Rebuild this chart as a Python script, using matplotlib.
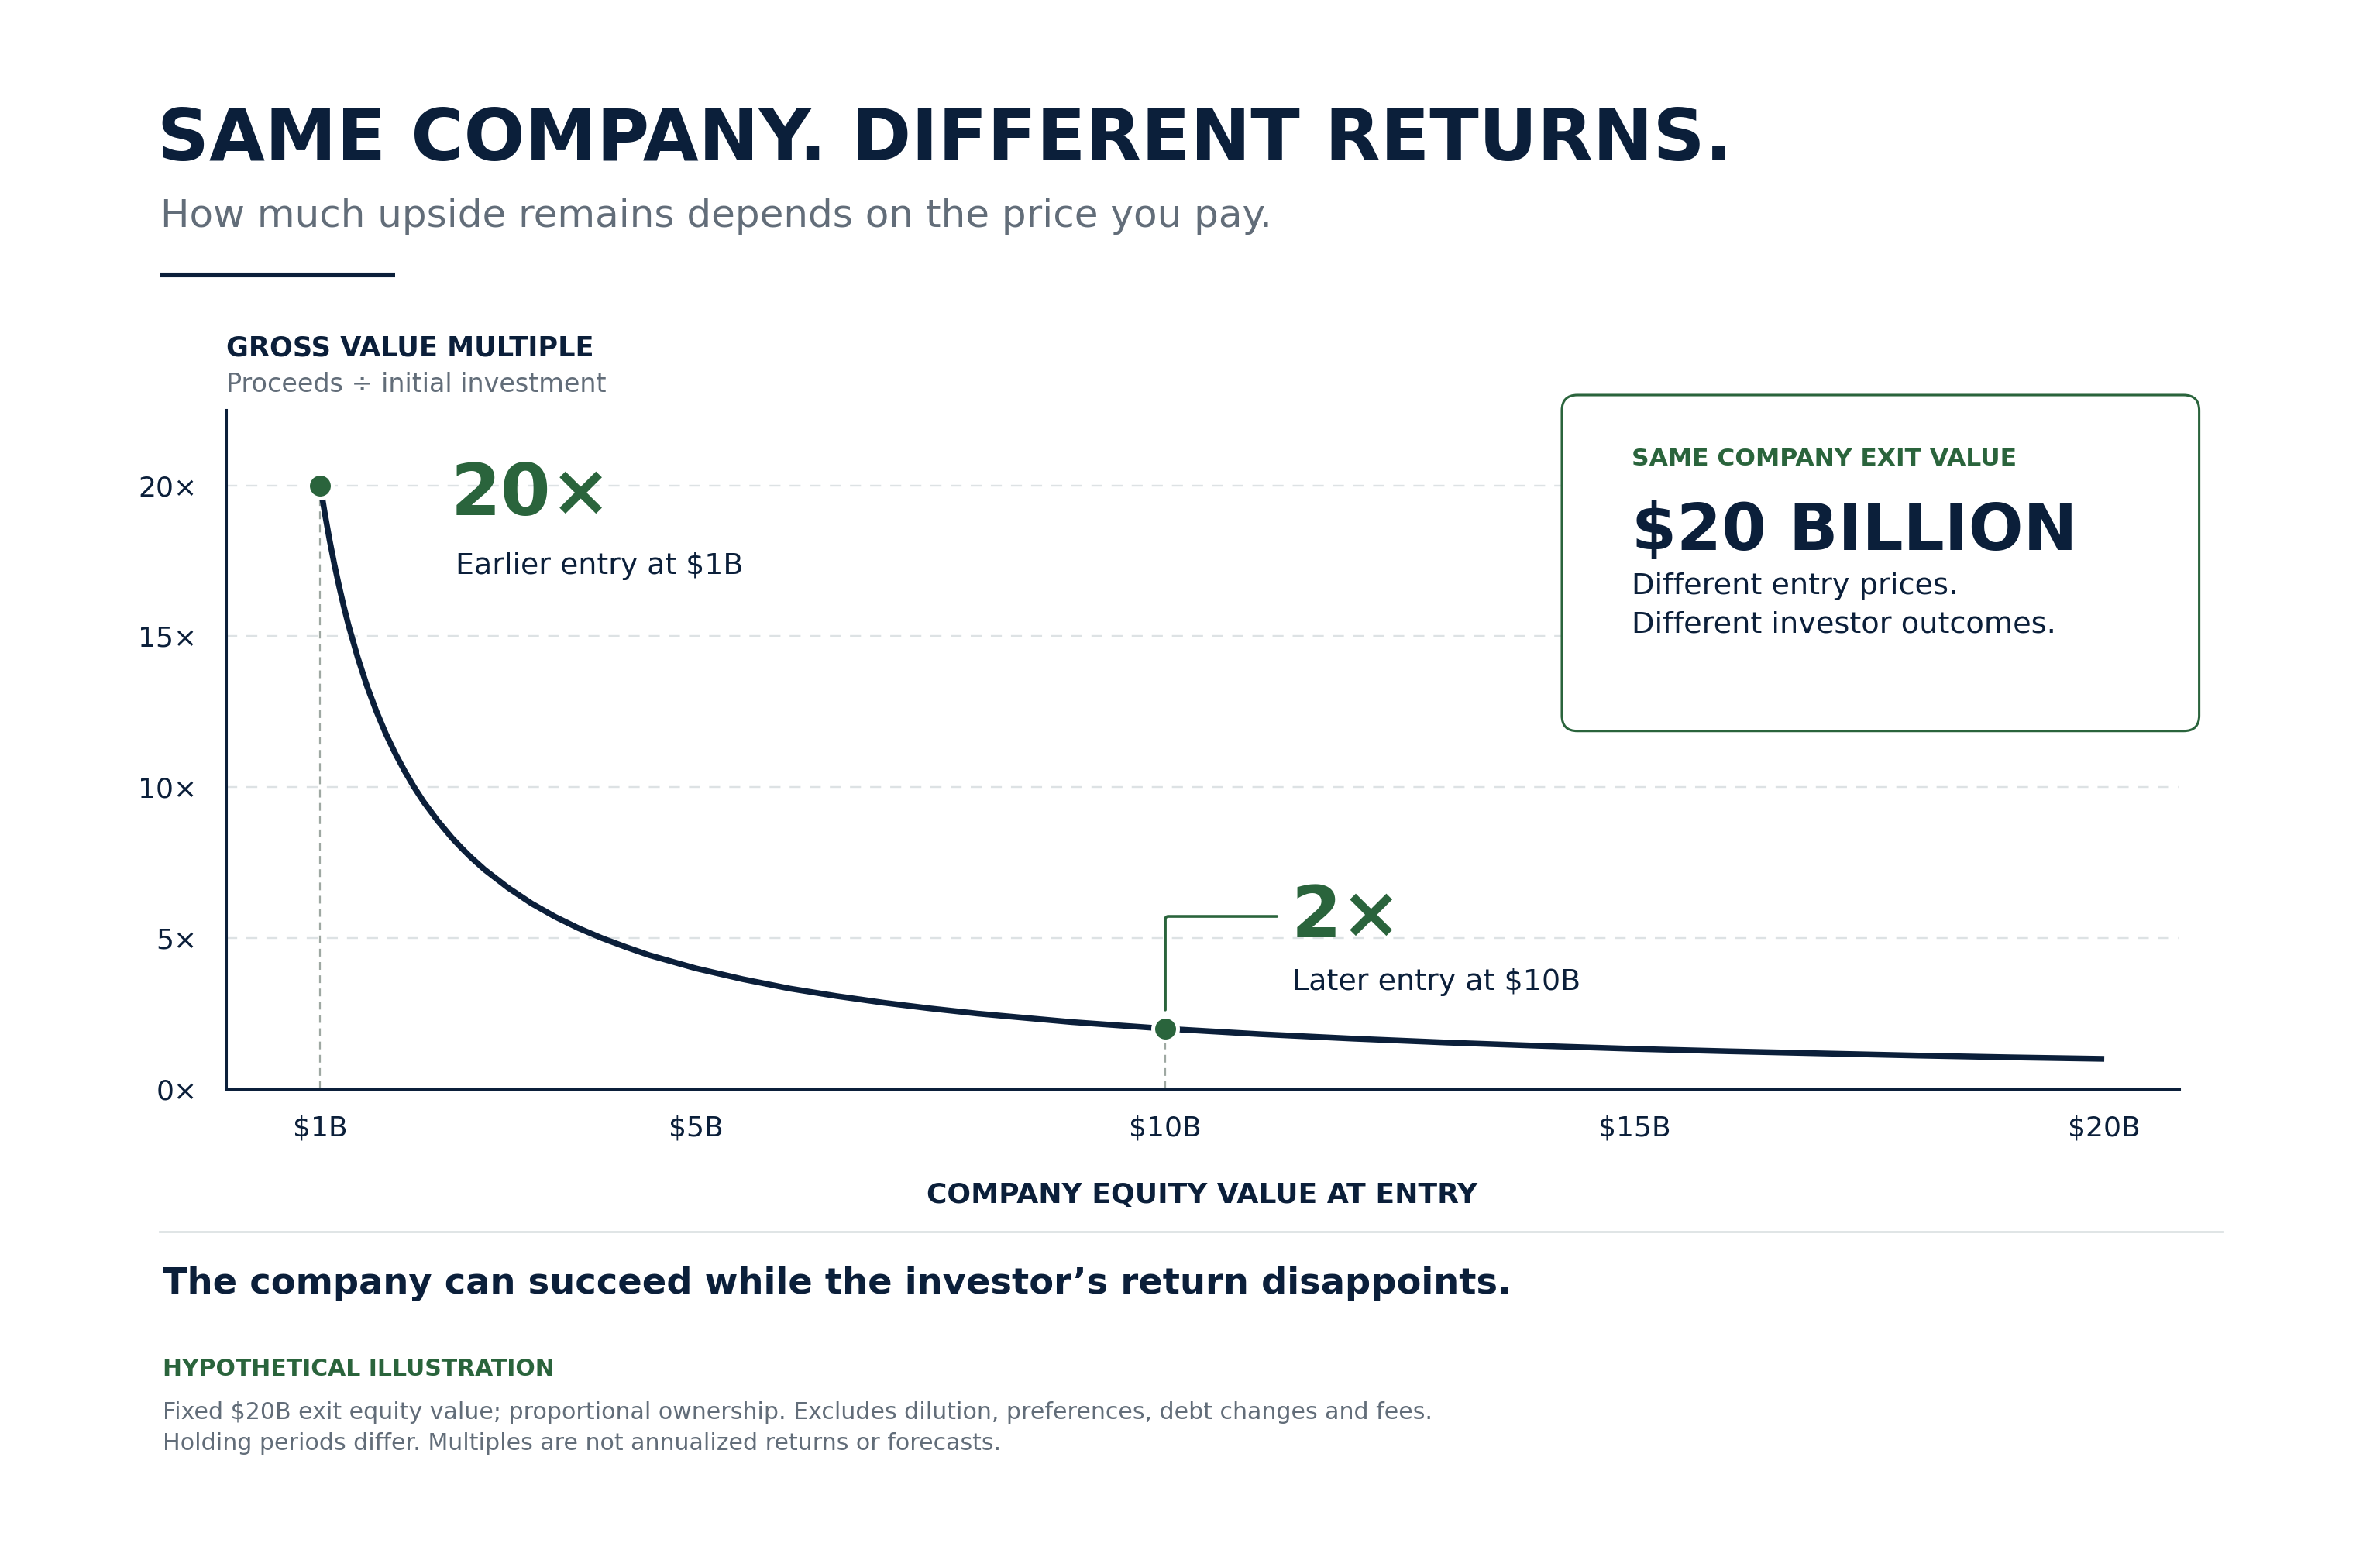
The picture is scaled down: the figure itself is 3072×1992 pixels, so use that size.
import matplotlib
matplotlib.use("Agg")
import matplotlib.pyplot as plt
from matplotlib.patches import FancyBboxPatch
from matplotlib.lines import Line2D

NAVY = "#0b1f3a"
GREEN = "#2a643c"
GRAY = "#626d79"
GRID = "#dde2e4"
DROP = "#9ea8a2"

# curve points (entry value $B -> gross multiple)
entry_values = [1, 1.05, 1.1, 1.15, 1.2, 1.25, 1.3, 1.4, 1.5, 1.6, 1.7, 1.8, 1.9,
                2, 2.1, 2.25, 2.4, 2.5, 2.6, 2.75, 3, 3.25, 3.5, 3.75, 4, 4.25,
                4.5, 5, 5.5, 6, 6.5, 7, 7.5, 8, 9, 10, 11, 12, 13, 14, 15, 16,
                17, 18, 19, 20]
multiples = [20, 19.05, 18.18, 17.39, 16.67, 16, 15.38, 14.29, 13.33, 12.5,
             11.76, 11.11, 10.53, 10, 9.52, 8.89, 8.33, 8, 7.69, 7.27, 6.67,
             6.15, 5.71, 5.33, 5, 4.71, 4.44, 4, 3.64, 3.33, 3.08, 2.86, 2.67,
             2.5, 2.22, 2, 1.82, 1.67, 1.54, 1.43, 1.33, 1.25, 1.18, 1.11,
             1.05, 1]

highlight_x = [1, 10]
highlight_y = [20, 2]

x_ticks = [1, 5, 10, 15, 20]
x_labels = ["$1B", "$5B", "$10B", "$15B", "$20B"]
y_ticks = [0, 5, 10, 15, 20]
y_labels = ["0×", "5×", "10×", "15×", "20×"]

plt.rcParams["font.family"] = ["DejaVu Sans"]

fig = plt.figure(figsize=(15.36, 9.96), dpi=200)
ax = fig.add_axes([0.0951, 0.2942, 0.8206, 0.4402])

ax.set_xlim(0, 20.8)
ax.set_ylim(0, 22.5)

# grid
ax.grid(axis="y", color=GRID, linewidth=0.85, linestyle=(0, (6, 5)))
ax.set_axisbelow(True)

# drop lines from the highlighted points
for hx, hy in zip(highlight_x, highlight_y):
    ax.plot([hx, hx], [0, hy], color=DROP, linewidth=0.8,
            linestyle=(0, (4.5, 3.2)), zorder=2)

# main curve
ax.plot(entry_values, multiples, color=NAVY, linewidth=2.7,
        solid_joinstyle="round", solid_capstyle="butt", zorder=3)

# markers
ax.plot(highlight_x, highlight_y, "o", markersize=11.5, markerfacecolor=GREEN,
        markeredgecolor="white", markeredgewidth=1.8, zorder=5)

# connector for the 2x callout
ax.annotate("", xy=(10, 2.62), xytext=(11.19, 5.72),
            arrowprops=dict(arrowstyle="-", color=GREEN, linewidth=1.3,
                            shrinkA=0, shrinkB=0,
                            connectionstyle="angle,angleA=0,angleB=90,rad=4"),
            zorder=4)

# callout labels
ax.text(2.39, 19.0, "20×", color=GREEN, fontsize=33.5, fontweight="bold",
        ha="left", va="baseline")
ax.text(2.44, 17.05, "Earlier entry at $1B", color=NAVY, fontsize=13.65,
        ha="left", va="baseline")
ax.text(11.34, 5.03, "2×", color=GREEN, fontsize=33.5, fontweight="bold",
        ha="left", va="baseline")
ax.text(11.35, 3.29, "Later entry at $10B", color=NAVY, fontsize=13.7,
        ha="left", va="baseline")

# axes styling
ax.set_xticks(x_ticks)
ax.set_xticklabels(x_labels)
ax.set_yticks(y_ticks)
ax.set_yticklabels(y_labels)
ax.tick_params(axis="both", length=0, labelsize=13, labelcolor=NAVY)
ax.tick_params(axis="y", pad=13.5)
ax.tick_params(axis="x", pad=12)
for side in ["top", "right"]:
    ax.spines[side].set_visible(False)
for side in ["left", "bottom"]:
    ax.spines[side].set_color(NAVY)
    ax.spines[side].set_linewidth(1.1)

# header
fig.text(0.0661, 0.8961, "SAME COMPANY. DIFFERENT RETURNS.", color=NAVY,
         fontsize=33.5, fontweight="bold", va="baseline")
fig.text(0.0674, 0.8529, "How much upside remains depends on the price you pay.",
         color=GRAY, fontsize=18, va="baseline")
fig.add_artist(Line2D([0.0674, 0.166], [0.8218, 0.8218], color=NAVY,
                      linewidth=2.2, solid_capstyle="butt"))

fig.text(0.0951, 0.7691, "GROSS VALUE MULTIPLE", color=NAVY, fontsize=12.65,
         fontweight="bold", va="baseline")
fig.text(0.0951, 0.7460, "Proceeds ÷ initial investment", color=GRAY,
         fontsize=12, va="baseline")

# callout box
box = FancyBboxPatch((10.08, 5.2415), 4.113, 2.1685,
                     boxstyle="round,pad=0,rounding_size=0.1",
                     transform=fig.dpi_scale_trans, facecolor="white",
                     edgecolor=GREEN, linewidth=1.1, zorder=2)
fig.add_artist(box)
fig.text(0.6855, 0.6981, "SAME COMPANY EXIT VALUE", color=GREEN, fontsize=11.3,
         fontweight="bold", va="baseline", zorder=3)
fig.text(0.6855, 0.6436, "$20 BILLION", color=NAVY, fontsize=30,
         fontweight="bold", va="baseline", zorder=3)
fig.text(0.6855, 0.6150, "Different entry prices.", color=NAVY, fontsize=13.75,
         va="baseline", zorder=3)
fig.text(0.6855, 0.5899, "Different investor outcomes.", color=NAVY,
         fontsize=13.75, va="baseline", zorder=3)

# x axis title
fig.text(0.5052, 0.2254, "COMPANY EQUITY VALUE AT ENTRY", color=NAVY,
         fontsize=13, fontweight="bold", ha="center", va="center")

# footer
fig.add_artist(Line2D([0.0669, 0.9336], [0.2018, 0.2018], color=GRID,
                      linewidth=1.0))
fig.text(0.0684, 0.1616,
         "The company can succeed while the investor’s return disappoints.",
         color=NAVY, fontsize=16.7, fontweight="bold", va="baseline")
fig.text(0.0684, 0.1086, "HYPOTHETICAL ILLUSTRATION", color=GREEN,
         fontsize=10.75, fontweight="bold", va="baseline")
fig.text(0.0684, 0.0805,
         "Fixed $20B exit equity value; proportional ownership. Excludes dilution, "
         "preferences, debt changes and fees.",
         color=GRAY, fontsize=10.8, va="baseline")
fig.text(0.0684, 0.0604,
         "Holding periods differ. Multiples are not annualized returns or forecasts.",
         color=GRAY, fontsize=10.8, va="baseline")

fig.savefig("out.png", dpi=200, facecolor="white")
